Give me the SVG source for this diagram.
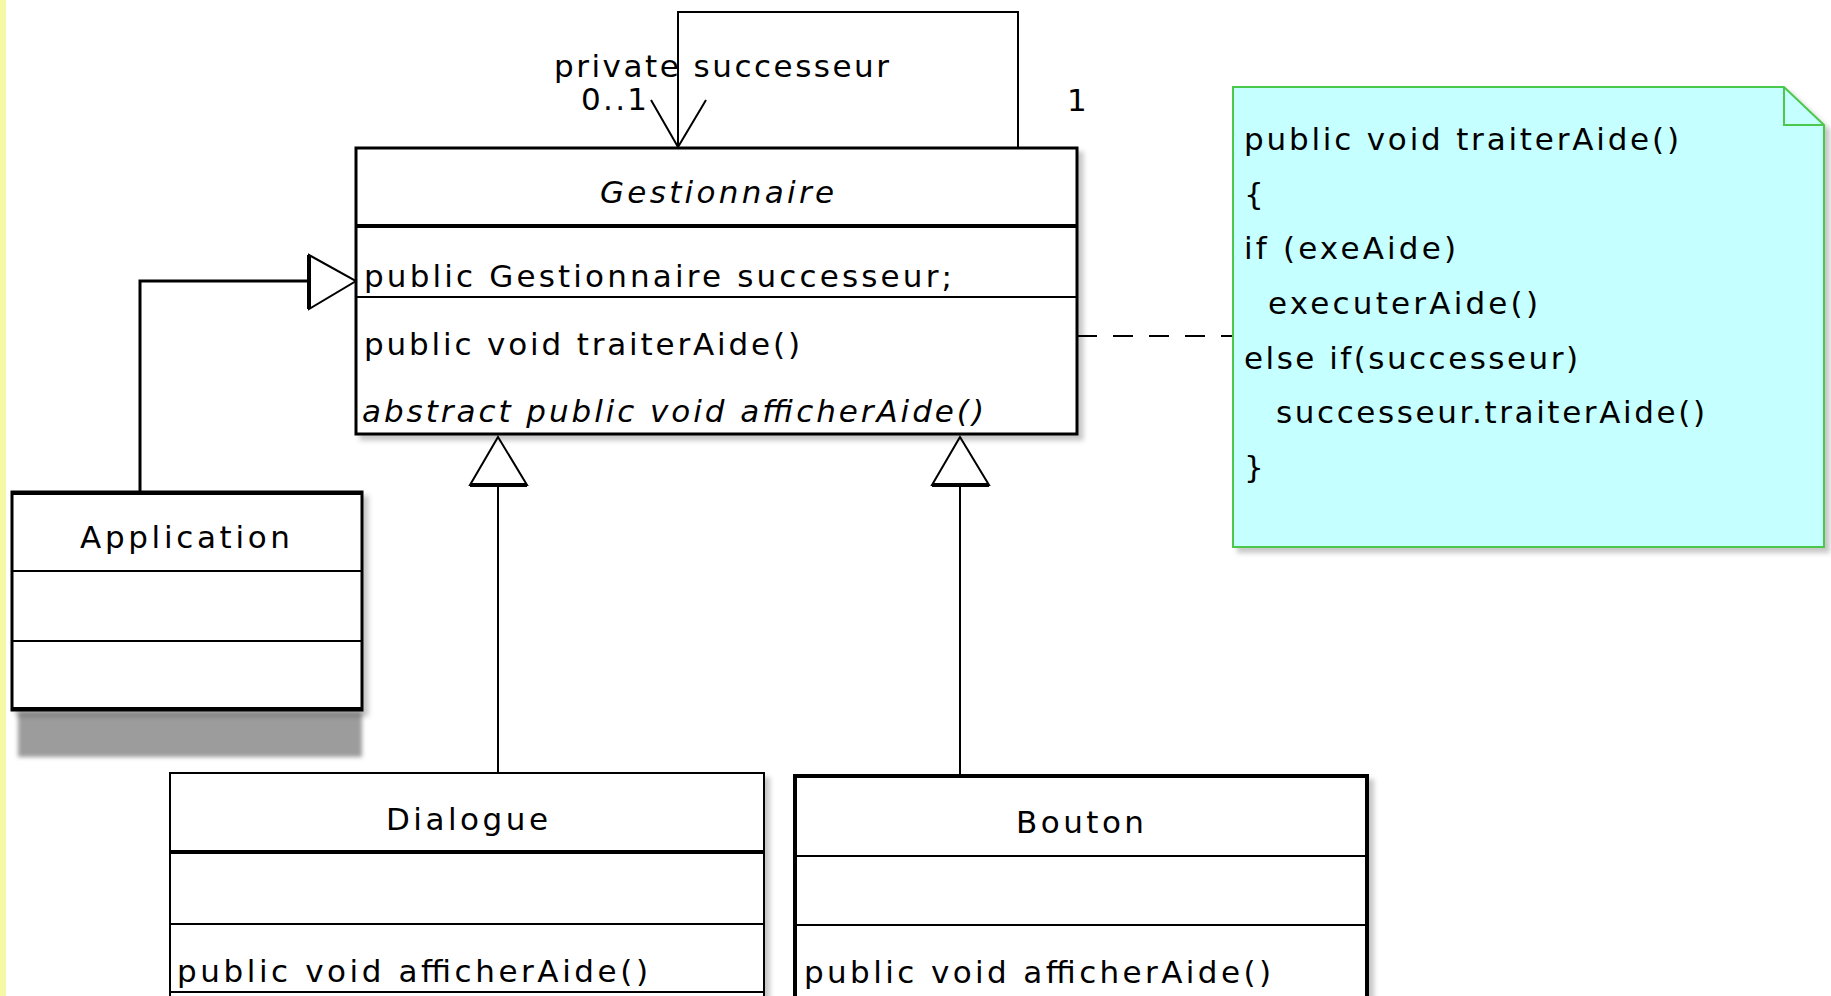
<svg xmlns="http://www.w3.org/2000/svg" width="1831" height="996" viewBox="0 0 1831 996">
<style>
.box{fill:#fff;stroke:#000;stroke-width:3}
.div{stroke:#000;stroke-width:2}
.thk{stroke:#000;stroke-width:4}
.t{font-family:"DejaVu Sans","Liberation Sans",sans-serif;font-size:31px;fill:#000}
.it{font-style:italic}
.mid{text-anchor:middle}
.edge{fill:none;stroke:#000;stroke-width:2}
.tri{fill:#fff;stroke:#000;stroke-width:2}
</style>
<defs>
<filter id="sh" x="-5%" y="-5%" width="115%" height="115%">
<feDropShadow dx="5" dy="5" stdDeviation="2.5" flood-color="#000" flood-opacity="0.22"/>
</filter>
<filter id="blur"><feGaussianBlur stdDeviation="2"/></filter>
</defs>
<rect x="0" y="0" width="1831" height="996" fill="#fff"/>
<rect x="0" y="0" width="6" height="996" fill="#F6F9A3"/>

<g id="connectors">
<path class="edge" d="M1018,148 V12 H678 V148"/>
<path class="edge" d="M651,100 L678,147 L706,100"/>
<path class="edge" d="M140,492 V281 H309" style="stroke-width:3"/>
<polygon class="tri" points="309,255 356,281 309,309"/>
<line x1="309" y1="255" x2="309" y2="309" stroke="#000" stroke-width="4"/>
<line class="edge" x1="498" y1="485" x2="498" y2="773"/>
<polygon class="tri" points="498,437 527,485 470,485"/>
<line x1="470" y1="485" x2="527" y2="485" stroke="#000" stroke-width="4"/>
<line class="edge" x1="960" y1="485" x2="960" y2="776"/>
<polygon class="tri" points="960,437 989,485 932,485"/>
<line x1="932" y1="485" x2="989" y2="485" stroke="#000" stroke-width="4"/>
<line class="edge" x1="1077" y1="336" x2="1233" y2="336" stroke-dasharray="20 16"/>
<text class="t" x="554" y="77" textLength="335" lengthAdjust="spacing">private successeur</text>
<text class="t" x="581" y="110" textLength="66" lengthAdjust="spacing">0..1</text>
<text class="t" x="1067" y="111">1</text>
</g>

<g id="Gestionnaire">
<rect class="box" x="356" y="148" width="721" height="286" filter="url(#sh)"/>
<line class="thk" x1="356" y1="226" x2="1077" y2="226"/>
<line class="div" x1="356" y1="297" x2="1077" y2="297"/>
<text class="t it mid" x="717" y="203" textLength="234" lengthAdjust="spacing">Gestionnaire</text>
<text class="t" x="364" y="287" textLength="588" lengthAdjust="spacing">public Gestionnaire successeur;</text>
<text class="t" x="364" y="355" textLength="436" lengthAdjust="spacing">public void traiterAide()</text>
<text class="t it" x="362" y="422" textLength="622" lengthAdjust="spacing">abstract public void afficherAide()</text>
</g>

<g id="Application">
<rect x="18" y="712" width="344" height="45" fill="#9c9c9c" filter="url(#blur)"/>
<rect class="box" x="12" y="492" width="350" height="218" filter="url(#sh)"/>
<line class="thk" x1="12" y1="493" x2="362" y2="493"/>
<line class="div" x1="12" y1="571" x2="362" y2="571"/>
<line class="div" x1="12" y1="641" x2="362" y2="641"/>
<line class="thk" x1="12" y1="709" x2="362" y2="709"/>
<text class="t mid" x="185" y="548" textLength="210" lengthAdjust="spacing">Application</text>
</g>

<g id="Dialogue">
<rect class="box" x="170" y="773" width="594" height="230" style="stroke-width:2" filter="url(#sh)"/>
<line class="thk" x1="170" y1="852" x2="764" y2="852"/>
<line class="div" x1="170" y1="924" x2="764" y2="924"/>
<line class="div" x1="170" y1="992" x2="764" y2="992"/>
<text class="t mid" x="467" y="830" textLength="162" lengthAdjust="spacing">Dialogue</text>
<text class="t" x="177" y="982" textLength="471" lengthAdjust="spacing">public void afficherAide()</text>
</g>

<g id="Bouton">
<rect class="box" x="795" y="776" width="572" height="230" style="stroke-width:4" filter="url(#sh)"/>
<line class="div" x1="795" y1="856" x2="1367" y2="856"/>
<line class="div" x1="795" y1="925" x2="1367" y2="925"/>
<text class="t mid" x="1080" y="833" textLength="128" lengthAdjust="spacing">Bouton</text>
<text class="t" x="804" y="983" textLength="467" lengthAdjust="spacing">public void afficherAide()</text>
</g>

<g id="Note">
<path d="M1233,87 H1784 L1824,125 V547 H1233 Z" fill="#C5FFFF" stroke="#4CC84C" stroke-width="2" filter="url(#sh)"/>
<path d="M1784,87 V125 H1824" fill="none" stroke="#4CC84C" stroke-width="2"/>
<text class="t" x="1244" y="150" textLength="435" lengthAdjust="spacing">public void traiterAide()</text>
<text class="t" x="1244" y="205">{</text>
<text class="t" x="1244" y="259" textLength="212" lengthAdjust="spacing">if (exeAide)</text>
<text class="t" x="1268" y="314" textLength="270" lengthAdjust="spacing">executerAide()</text>
<text class="t" x="1244" y="369" textLength="334" lengthAdjust="spacing">else if(successeur)</text>
<text class="t" x="1276" y="423" textLength="429" lengthAdjust="spacing">successeur.traiterAide()</text>
<text class="t" x="1244" y="478">}</text>
</g>
</svg>
